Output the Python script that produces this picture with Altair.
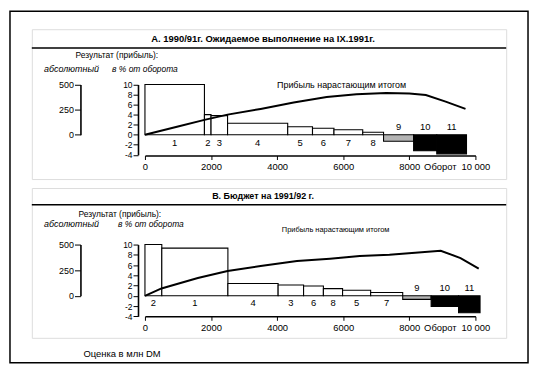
import altair as alt
import pandas as pd
import numpy as np

# ---------------- data ----------------
# Panel A: 1990/91, expected result as of IX.1991
labels_a = ["1", "2", "3", "4", "5", "6", "7", "8", "9", "10", "11"]
turnover_a = [1800, 200, 500, 1820, 750, 650, 870, 630, 910, 700, 900]
margin_a = [10, 4.0, 3.8, 2.3, 1.6, 1.3, 1.0, 0.5, -1.3, -3.2, -3.8]
cum_x_a = [0, 1000, 1800, 2500, 3500, 4500, 5500, 6400, 7300, 8000, 8500, 9100, 9700]
cum_y_a = [0, 82, 148, 200, 257, 320, 375, 403, 416, 411, 395, 330, 257]

# Panel B: budget 1991/92
labels_b = ["2", "1", "4", "3", "6", "8", "5", "7", "9", "10", "11"]
turnover_b = [510, 2000, 1520, 770, 600, 580, 850, 970, 860, 830, 650]
margin_b = [10, 9.3, 2.4, 2.1, 1.9, 1.4, 1.1, 0.65, -0.7, -2.1, -3.3]
cum_x_b = [0, 500, 1600, 2500, 3500, 4600, 5600, 6500, 7400, 8950, 9550, 10100]
cum_y_b = [0, 72, 174, 242, 290, 339, 362, 389, 400, 440, 368, 265]

x_ticks = [0, 2000, 4000, 6000, 8000, 10000]
pct_ticks = [-4, -2, 0, 2, 4, 6, 8, 10]
abs_ticks = [0, 250, 500]

title_a = "А. 1990/91г. Ожидаемое выполнение на IX.1991г."
title_b = "В. Бюджет на 1991/92 г."
line_label = "Прибыль нарастающим итогом"

FONT = "Liberation Sans"
W, H = 478, 151


def panel(labels, turnover, margin, lx, ly, title, lay, outer=False, footer=False):
    df = pd.DataFrame({"lab": labels, "w": turnover, "v": margin})
    df["x1"] = np.cumsum(df["w"])
    df["x0"] = df["x1"] - df["w"]
    df["xm"] = (df["x0"] + df["x1"]) / 2
    ldf = pd.DataFrame({"lx": lx, "ly": ly})

    xs = alt.Scale(domain=[0, 10000], range=[114, 447])
    ys = alt.Scale(domain=[-4, 10], range=[lay["ym4"], lay["y10"]])
    y0 = lay["ym4"] - 4 * (lay["ym4"] - lay["y10"]) / 14
    ya = alt.Scale(domain=[0, 500], range=[y0, lay["y10"]])

    xaxis = alt.Axis(values=x_ticks, offset=lay["xoff"], labelFlush=False,
                     labelOverlap=False, labelBound=False, grid=False, tickSize=4,
                     labelPadding=2, domainColor="black", domainWidth=1.6,
                     tickColor="black", labelFontSize=9.5, labelColor="black",
                     labelFont=FONT,
                     labelExpr="datum.value == 10000 ? '10 000' : '' + datum.value")
    yaxis = alt.Axis(values=pct_ticks, orient="left", offset=-107, grid=False,
                     labelOverlap=False, labelFlush=False, labelBound=False,
                     tickSize=5, labelPadding=1, domainColor="black", domainWidth=1.6,
                     tickColor="black", labelFontSize=8.5, labelColor="black",
                     labelFont=FONT, labelExpr="'' + datum.value")

    def X(f):
        return alt.X(f, scale=xs, title=None, axis=xaxis)

    def Y(f):
        return alt.Y(f, scale=ys, title=None, axis=yaxis)

    base = alt.Chart(df).transform_calculate(
        zero="0",
        kind="datum.lab == '9' ? 'p' : ((datum.lab == '10' || datum.lab == '11') ? 'b' : 'w')",
    )

    bars = base.mark_rect(stroke="black", strokeWidth=1.1).encode(
        x=X("x0:Q"),
        x2="x1:Q",
        y=Y("v:Q"),
        y2="zero:Q",
        fill=alt.Fill("kind:N", legend=None,
                      scale=alt.Scale(domain=["w", "p", "b"], range=["white", "#b4b4b4", "black"])),
    )

    lab_pos = base.transform_filter("datum.v >= 0").mark_text(
        dy=lay["dlab"], fontSize=9.5, font=FONT, color="black").encode(
        x=X("xm:Q"), y=Y("zero:Q"), text="lab:N")
    lab_neg = base.transform_filter("datum.v < 0").mark_text(
        dy=-8, fontSize=9.5, font=FONT, color="black").encode(
        x=X("xm:Q"), y=Y("zero:Q"), text="lab:N")

    ann = alt.Chart(pd.DataFrame({"ax": [lay["annx"]], "ay": [lay["anny"]], "t": [line_label]})).mark_text(
        fontSize=lay["annfs"], font=FONT, color="black").encode(
        x=X("ax:Q"), y=Y("ay:Q"), text="t:N")

    turnover_txt = alt.Chart(pd.DataFrame({"ax": [10000], "ay": [-4], "t": ["Оборот"]})).mark_text(
        fontSize=9.5, font=FONT, color="black", align="right", dx=-19, dy=12).encode(
        x=X("ax:Q"), y=Y("ay:Q"), text="t:N")

    one = pd.DataFrame({"a": [0]})
    ttl = alt.Chart(pd.DataFrame({"t": [title]})).mark_text(
        fontSize=lay["tfs"], fontWeight="bold", font=FONT, color="black").encode(
        x=alt.value(233), y=alt.value(lay["ty"]), text="t:N")
    sep = alt.Chart(one).mark_rule(color="black", strokeWidth=1.5).encode(
        x=alt.value(0), x2=alt.value(W), y=alt.value(lay["sep"]))
    h1 = alt.Chart(pd.DataFrame({"t": ["Результат (прибыль):"]})).mark_text(
        fontSize=8.5, font=FONT, align="left", color="black").encode(
        x=alt.value(lay["h1x"]), y=alt.value(26), text="t:N")
    h2 = alt.Chart(pd.DataFrame({"t": ["абсолютный"]})).mark_text(
        fontSize=9, font=FONT, fontStyle="italic", color="black").encode(
        x=alt.value(40), y=alt.value(lay["h2y"]), text="t:N")
    h3 = alt.Chart(pd.DataFrame({"t": ["в % от оборота"]})).mark_text(
        fontSize=8.5, font=FONT, fontStyle="italic", color="black").encode(
        x=alt.value(lay["h3x"]), y=alt.value(lay["h2y"]), text="t:N")

    layers = [bars, lab_pos, lab_neg, ann, turnover_txt, ttl, sep, h1, h2, h3]
    if outer:
        frame = alt.Chart(one).mark_rect(fillOpacity=0, stroke="black", strokeWidth=1.5).encode(
            x=alt.value(-22), x2=alt.value(500), y=alt.value(-18), y2=alt.value(336))
        layers.append(frame)
    if footer:
        foot = alt.Chart(pd.DataFrame({"t": ["Оценка в млн DM"]})).mark_text(
            fontSize=9.5, font=FONT, align="left", color="black").encode(
            x=alt.value(52), y=alt.value(167), text="t:N")
        layers.append(foot)

    pct_layer = alt.layer(*layers)

    line = alt.Chart(ldf).mark_line(color="black", strokeWidth=2).encode(
        x=X("lx:Q"),
        y=alt.Y("ly:Q", scale=ya, title=None,
                axis=alt.Axis(values=abs_ticks, orient="left", offset=-49, grid=False,
                              labelOverlap=False, labelFlush=False, labelBound=False,
                              tickSize=6, labelPadding=1, domainColor="black", domainWidth=1.6,
                              tickColor="black", labelFontSize=9, labelColor="black",
                              labelFont=FONT)),
    )

    return alt.layer(pct_layer, line).resolve_scale(y="independent").properties(width=W, height=H)


lay_a = dict(ym4=126.6, y10=55.7, xoff=-23.7, dlab=8.5, annx=5950, anny=9.9, annfs=9,
             tfs=9.5, ty=10, sep=19, h1x=44, h2y=40, h3x=114)
lay_b = dict(ym4=129.3, y10=57, xoff=-21.7, dlab=7, annx=5770, anny=12.9, annfs=7.5,
             tfs=9, ty=8, sep=17, h1x=47, h2y=36, h3x=120)

pa = panel(labels_a, turnover_a, margin_a, cum_x_a, cum_y_a, title_a, lay_a, outer=True)
pb = panel(labels_b, turnover_b, margin_b, cum_x_b, cum_y_b, title_b, lay_b, footer=True)

chart = alt.vconcat(pa, pb, spacing=9, bounds="flush").properties(padding=0).configure_view(
    stroke="black", strokeWidth=2, fill="white"
).configure_axis(
    labelOverlap=False, labelFlush=False, grid=False
).configure(background="white")

chart.save("out.html", embed_options={"renderer": "svg", "actions": False})
